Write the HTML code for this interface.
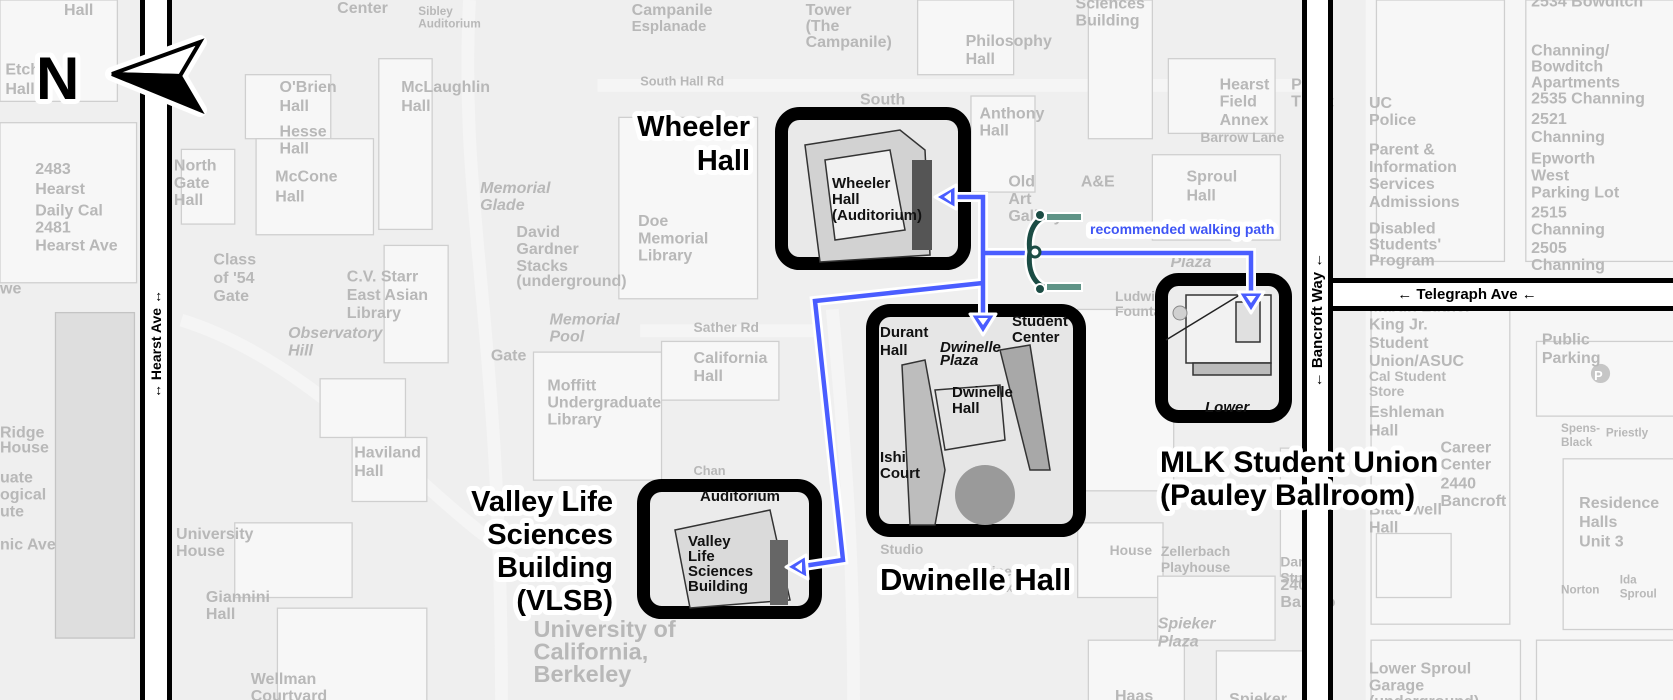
<!DOCTYPE html>
<html><head><meta charset="utf-8"><style>
html,body{margin:0;padding:0;background:#f2f2f2;}
svg{display:block;}
.g{font-family:"Liberation Sans",sans-serif;fill:#b8b8b8;font-size:15px;font-weight:bold;}
.gi{font-style:italic;}
.b{stroke:#cfcfcf;stroke-width:1.2;fill:#f7f7f7;}
.bd{stroke:#c4c4c4;stroke-width:1.2;fill:#dedede;}
.L{font-family:"Liberation Sans",sans-serif;font-weight:bold;fill:#000;paint-order:stroke;stroke:#fff;stroke-width:10;stroke-linejoin:round;}
.in{font-family:"Liberation Sans",sans-serif;font-weight:bold;fill:#111;font-size:15px;}
</style></head><body>
<svg width="1673" height="700" viewBox="0 0 1673 700" xmlns="http://www.w3.org/2000/svg">
<rect width="1673" height="700" fill="#efefef"/>
<g transform="scale(1.067)">
  <path d="M150 0 V660 M440 0 C430 200 470 300 470 660 M560 80 H1240 M170 300 C300 340 400 470 480 520 M600 310 H770 M780 290 C790 400 800 500 800 660" stroke="#f5f5f5" stroke-width="12" fill="none"/>
  <rect x="1280" y="0" width="300" height="660" fill="#f6f6f6"/>
  <rect class="b" x="0" y="115" width="128" height="150"/>
  <rect class="bd" x="52" y="293" width="74" height="305"/>
  <rect class="b" x="0" y="0" width="110" height="95"/>
  <rect class="b" x="230" y="70" width="80" height="60"/>
  <rect class="b" x="240" y="130" width="110" height="90"/>
  <rect class="b" x="355" y="55" width="50" height="160"/>
  <rect class="b" x="170" y="140" width="50" height="70"/>
  <rect class="b" x="360" y="230" width="60" height="110"/>
  <rect class="b" x="300" y="355" width="80" height="55"/>
  <rect class="b" x="330" y="410" width="70" height="60"/>
  <rect class="b" x="220" y="490" width="110" height="70"/>
  <rect class="b" x="260" y="570" width="140" height="90"/>
  <rect class="b" x="580" y="110" width="130" height="170"/>
  <rect class="b" x="500" y="330" width="120" height="120"/>
  <rect class="b" x="620" y="320" width="110" height="55"/>
  <rect class="b" x="860" y="0" width="90" height="70"/>
  <rect class="b" x="910" y="90" width="60" height="90"/>
  <rect class="b" x="1020" y="0" width="60" height="130"/>
  <rect class="b" x="1095" y="55" width="100" height="70"/>
  <rect class="b" x="1080" y="145" width="120" height="80"/>
  <rect class="b" x="1010" y="290" width="90" height="170" fill="#eaeaea"/>
  <rect class="b" x="1010" y="490" width="80" height="70"/>
  <rect class="b" x="1085" y="540" width="110" height="60"/>
  <rect class="b" x="1020" y="600" width="90" height="60"/>
  <rect class="b" x="1140" y="610" width="90" height="50"/>
  <rect class="b" x="1200" y="420" width="40" height="120"/>
  <rect class="b" x="1290" y="0" width="120" height="245" fill="#fafafa"/>
  <rect class="b" x="1430" y="0" width="150" height="245" fill="#fafafa"/>
  <rect class="b" x="1285" y="275" width="130" height="310" fill="#fafafa"/>
  <rect class="b" x="1440" y="320" width="140" height="70" fill="#efefef"/>
  <rect class="b" x="1465" y="430" width="110" height="160" fill="#fafafa"/>
  <rect class="b" x="1285" y="600" width="140" height="60" fill="#fafafa"/>
  <rect class="b" x="1440" y="600" width="140" height="60" fill="#fafafa"/>
  <rect class="b" x="1290" y="500" width="70" height="60" fill="#e8e8e8"/>
  <circle cx="1500" cy="350" r="9" fill="#c6c6c6"/>
  <g class="g">
    <text x="60" y="14">Hall</text>
    <text x="5" y="70">Etch</text><text x="5" y="88">Hall</text>
    <text x="33" y="163">2483</text><text x="33" y="182">Hearst</text>
    <text x="33" y="202">Daily Cal</text><text x="33" y="218">2481</text><text x="33" y="235">Hearst Ave</text>
    <text x="0" y="275">we</text>
    <text x="0" y="410">Ridge</text><text x="0" y="424">House</text>
    <text x="0" y="452">uate</text><text x="0" y="468">ogical</text><text x="0" y="484">ute</text><text x="0" y="515">nic Ave</text>
    <text x="316" y="12">Center</text>
    <text x="392" y="14" font-size="11">Sibley</text><text x="392" y="26" font-size="11">Auditorium</text>
    <text x="262" y="86">O'Brien</text><text x="262" y="104">Hall</text>
    <text x="262" y="128">Hesse</text><text x="262" y="144">Hall</text>
    <text x="258" y="170">McCone</text><text x="258" y="189">Hall</text>
    <text x="376" y="86">McLaughlin</text><text x="376" y="104">Hall</text>
    <text x="163" y="160">North</text><text x="163" y="176">Gate</text><text x="163" y="192">Hall</text>
    <text x="200" y="248">Class</text><text x="200" y="265">of '54</text><text x="200" y="282">Gate</text>
    <text x="325" y="264">C.V. Starr</text><text x="325" y="281">East Asian</text><text x="325" y="298">Library</text>
    <text class="gi" x="450" y="181">Memorial</text><text class="gi" x="450" y="197">Glade</text>
    <text x="484" y="222">David</text><text x="484" y="238">Gardner</text><text x="484" y="254">Stacks</text><text x="484" y="268">(underground)</text>
    <text x="598" y="212">Doe</text><text x="598" y="228">Memorial</text><text x="598" y="244">Library</text>
    <text class="gi" x="270" y="317">Observatory</text><text class="gi" x="270" y="333">Hill</text>
    <text class="gi" x="515" y="304">Memorial</text><text class="gi" x="515" y="320">Pool</text>
    <text x="460" y="338">Gate</text>
    <text x="513" y="366">Moffitt</text><text x="513" y="382">Undergraduate</text><text x="513" y="398">Library</text>
    <text x="332" y="429">Haviland</text><text x="332" y="446">Hall</text>
    <text x="165" y="505">University</text><text x="165" y="521">House</text>
    <text x="193" y="564">Giannini</text><text x="193" y="580">Hall</text>
    <text x="235" y="641">Wellman</text><text x="235" y="657">Courtyard</text>
    <text x="500" y="597" font-size="22">University of</text><text x="500" y="618" font-size="22">California,</text><text x="500" y="639" font-size="22">Berkeley</text>
    <text x="600" y="80" font-size="12">South Hall Rd</text>
    <text x="592" y="14">Campanile</text><text x="592" y="29" font-size="14">Esplanade</text>
    <text x="755" y="14">Tower</text><text x="755" y="29">(The</text><text x="755" y="44">Campanile)</text>
    <text x="650" y="311" font-size="13">Sather Rd</text>
    <text x="650" y="340">California</text><text x="650" y="357">Hall</text>
    <text x="650" y="445" font-size="12">Chan</text>
    <text x="806" y="98">South</text>
    <text x="905" y="43">Philosophy</text><text x="905" y="60">Hall</text>
    <text x="918" y="111">Anthony</text><text x="918" y="127">Hall</text>
    <text x="945" y="175">Old</text><text x="945" y="191">Art</text><text x="945" y="207">Gallery</text>
    <text x="1013" y="175">A&amp;E</text>
    <text x="1008" y="8">Sciences</text><text x="1008" y="24">Building</text>
    <text x="1143" y="84">Hearst</text><text x="1143" y="100">Field</text><text x="1143" y="117">Annex</text>
    <text x="1210" y="84">PFA</text><text x="1210" y="100">Theat</text>
    <text x="1125" y="133" font-size="13">Barrow Lane</text>
    <text x="1112" y="170">Sproul</text><text x="1112" y="188">Hall</text>
    <text class="gi" x="1097" y="250">Plaza</text>
    <text x="1045" y="282" font-size="13">Ludwig's</text><text x="1045" y="296" font-size="13">Fountain</text>
    <text x="1040" y="520" font-size="13">House</text>
    <text x="1088" y="521" font-size="13">Zellerbach</text><text x="1088" y="536" font-size="13">Playhouse</text>
    <text x="1200" y="531" font-size="13">Dance</text><text x="1200" y="546" font-size="13">Studio</text>
    <text x="1200" y="553">2401</text><text x="1200" y="569">Bancro</text>
    <text class="gi" x="1085" y="589">Spieker</text><text class="gi" x="1085" y="606">Plaza</text>
    <text x="1045" y="657">Haas</text><text x="1152" y="660">Spieker</text>
    <text x="825" y="519" font-size="13">Studio</text>
    <text x="910" y="540" font-size="13">Dwinelle</text><text x="910" y="555" font-size="13">Annex</text>
    <text x="1283" y="101">UC</text><text x="1283" y="117">Police</text>
    <text x="1283" y="145">Parent &amp;</text><text x="1283" y="161">Information</text><text x="1283" y="177">Services</text>
    <text x="1283" y="194">Admissions</text>
    <text x="1283" y="219">Disabled</text><text x="1283" y="234">Students'</text><text x="1283" y="249">Program</text>
    <text x="1435" y="6">2534 Bowditch</text>
    <text x="1435" y="52">Channing/</text><text x="1435" y="67">Bowditch</text><text x="1435" y="82">Apartments</text><text x="1435" y="97">2535 Channing</text>
    <text x="1435" y="116">2521</text><text x="1435" y="133">Channing</text>
    <text x="1435" y="153">Epworth</text><text x="1435" y="169">West</text><text x="1435" y="185">Parking Lot</text>
    <text x="1435" y="204">2515</text><text x="1435" y="220">Channing</text>
    <text x="1435" y="237">2505</text><text x="1435" y="253">Channing</text>
    <text x="1283" y="292">Martin Luther</text><text x="1283" y="309">King Jr.</text><text x="1283" y="326">Student</text><text x="1283" y="343">Union/ASUC</text>
    <text x="1283" y="357" font-size="13">Cal Student</text><text x="1283" y="371" font-size="13">Store</text>
    <text x="1445" y="323">Public</text><text x="1445" y="340">Parking</text>
    <text x="1494" y="356" fill="#fff" font-size="12">P</text>
    <text x="1283" y="391">Eshleman</text><text x="1283" y="408">Hall</text>
    <text x="1350" y="424">Career</text><text x="1350" y="440">Center</text><text x="1350" y="458">2440</text><text x="1350" y="474">Bancroft</text>
    <text x="1463" y="405" font-size="11">Spens-</text><text x="1463" y="418" font-size="11">Black</text>
    <text x="1505" y="409" font-size="11">Priestly</text>
    <text x="1480" y="476">Residence</text><text x="1480" y="494">Halls</text><text x="1480" y="512">Unit 3</text>
    <text x="1283" y="482">Blackwell</text><text x="1283" y="499">Hall</text>
    <text x="1463" y="556" font-size="11">Norton</text>
    <text x="1518" y="547" font-size="11">Ida</text><text x="1518" y="560" font-size="11">Sproul</text>
    <text x="1283" y="631">Lower Sproul</text><text x="1283" y="647">Garage</text><text x="1283" y="662">(underground)</text>
  </g>
</g>

<rect x="140" y="0" width="5" height="700" fill="#000"/>
<rect x="167" y="0" width="5" height="700" fill="#000"/>
<rect x="145" y="0" width="22" height="700" fill="#fff"/>
<rect x="1302" y="0" width="5" height="700" fill="#000"/>
<rect x="1328" y="0" width="5" height="700" fill="#000"/>
<rect x="1307" y="0" width="21" height="700" fill="#fff"/>
<rect x="1333" y="283" width="340" height="23" fill="#fff"/>
<rect x="1328" y="278" width="345" height="5" fill="#000"/>
<rect x="1328" y="306" width="345" height="5" fill="#000"/>
<text x="0" y="0" transform="translate(161,344) rotate(-90)" text-anchor="middle" font-family="Liberation Sans,sans-serif" font-size="14" font-weight="bold">↔ Hearst Ave ↔</text>
<text x="0" y="0" transform="translate(1322,320) rotate(-90)" text-anchor="middle" font-family="Liberation Sans,sans-serif" font-size="15" font-weight="bold">← Bancroft Way ←</text>
<text x="1467" y="299" text-anchor="middle" font-family="Liberation Sans,sans-serif" font-size="15" font-weight="bold">← Telegraph Ave ←</text>

<polygon points="112,74 200,42 180,76 200,110" fill="none" stroke="#fff" stroke-width="14" stroke-linejoin="round"/>
<polygon points="112,74 200,42 180,76" fill="#fff" stroke="#000" stroke-width="4" stroke-linejoin="miter"/>
<polygon points="112,74 180,76 200,110" fill="#000" stroke="#000" stroke-width="4"/>
<text class="L" x="36" y="99" font-size="60" stroke-width="12">N</text>

<g>
  <rect x="781.5" y="113.5" width="183" height="150" rx="18" fill="#e9e9e9" stroke="#000" stroke-width="13"/>
  <g stroke="#333" stroke-width="1.5" fill="#d2d2d2">
    <polygon points="805,145 900,130 925,150 930,255 820,262"/>
    <polygon points="825,160 890,150 905,230 835,240" fill="#f1f1f1"/>
  </g>
  <rect x="912" y="160" width="20" height="90" fill="#555"/>
  <text class="in" x="832" y="188">Wheeler</text><text class="in" x="832" y="204">Hall</text><text class="in" x="832" y="220">(Auditorium)</text>

  <rect x="872.5" y="310.5" width="207" height="220" rx="18" fill="#e6e6e6" stroke="#000" stroke-width="13"/>
  <g stroke="#333" stroke-width="1.5" fill="#bdbdbd">
    <polygon points="902,365 925,360 945,470 935,525 910,525"/>
    <polygon points="935,390 1000,385 1005,440 945,450" fill="#e4e4e4"/>
    <polygon points="1000,350 1030,345 1050,470 1030,470" fill="#a8a8a8"/>
  </g>
  <circle cx="985" cy="495" r="30" fill="#9a9a9a"/>
  <text class="in" x="880" y="337">Durant</text><text class="in" x="880" y="355">Hall</text>
  <text class="in" x="940" y="352" font-style="italic" font-size="13">Dwinelle</text><text class="in" x="940" y="365" font-style="italic" font-size="13">Plaza</text>
  <text class="in" x="952" y="397">Dwinelle</text><text class="in" x="952" y="413">Hall</text>
  <text class="in" x="880" y="462">Ishi</text><text class="in" x="880" y="478">Court</text>
  <text class="in" x="1012" y="326">Student</text><text class="in" x="1012" y="342">Center</text>

  <rect x="643.5" y="485.5" width="172" height="127" rx="18" fill="#ebebeb" stroke="#000" stroke-width="13"/>
  <g stroke="#333" stroke-width="1.5" fill="#dadada">
    <polygon points="675,530 770,510 790,600 690,608"/>
  </g>
  <rect x="770" y="540" width="18" height="65" fill="#666"/>
  <text class="in" x="700" y="501" font-size="13">Auditorium</text>
  <text class="in" x="688" y="546">Valley</text><text class="in" x="688" y="561">Life</text><text class="in" x="688" y="576">Sciences</text><text class="in" x="688" y="591">Building</text>

  <rect x="1161.5" y="279.5" width="124" height="137" rx="17" fill="#ececec" stroke="#000" stroke-width="13"/>
  <g stroke="#333" stroke-width="1.5" fill="#f2f2f2">
    <rect x="1186" y="295" width="85" height="68"/>
    <rect x="1236" y="302" width="24" height="40" fill="#e0e0e0"/>
    <rect x="1193" y="363" width="78" height="12" fill="#bbb"/>
  </g>
  <line x1="1166" y1="340" x2="1238" y2="296" stroke="#222" stroke-width="1.5"/>
  <circle cx="1180" cy="313" r="7" fill="#d0d0d0" stroke="#888"/>
  <text class="in" x="1205" y="412" font-style="italic" fill="#444">Lower</text>
</g>

<g fill="none" stroke-linejoin="miter">
  <path d="M945 197 H983 V322 M983 253 H1251 V300 M983 283 L815 301 L843 560 L797 567" stroke="#fff" stroke-width="10"/>
  <path d="M945 197 H983 V322 M983 253 H1251 V300 M983 283 L815 301 L843 560 L797 567" stroke="#4a5dff" stroke-width="4.5"/>
</g>
<g stroke="#fff" stroke-width="3" stroke-linejoin="round">
  <polygon points="935,197 956,185 956,209" fill="#4a5dff"/>
  <polygon points="983,335 970,314 996,314" fill="#4a5dff"/>
  <polygon points="1251,313 1238,292 1264,292" fill="#4a5dff"/>
  <polygon points="786,567 806,555 808,579" fill="#4a5dff"/>
</g>
<polygon points="944,197 951,192 951,202" fill="#fff"/>
<polygon points="983,325 978,318 988,318" fill="#fff"/>
<polygon points="1251,303 1246,296 1256,296" fill="#fff"/>
<polygon points="795,567 802,562 802,572" fill="#fff"/>
<text class="L" x="1090" y="234" font-size="14" stroke-width="6" style="fill:#3f55f5">recommended walking path</text>

<g>
  <path d="M1046 216 C1030 222 1028 240 1030 252 C1028 264 1030 282 1046 288" fill="none" stroke="#fff" stroke-width="10"/>
  <path d="M1046 216 C1030 222 1028 240 1030 252 C1028 264 1030 282 1046 288" fill="none" stroke="#1b4c44" stroke-width="5"/>
  <rect x="1046" y="213" width="36" height="8" fill="#5f9487" stroke="#fff" stroke-width="2"/>
  <rect x="1046" y="283" width="36" height="8" fill="#5f9487" stroke="#fff" stroke-width="2"/>
  <circle cx="1040" cy="215" r="5" fill="#1b4c44" stroke="#fff" stroke-width="2"/>
  <circle cx="1040" cy="289" r="5" fill="#1b4c44" stroke="#fff" stroke-width="2"/>
  <circle cx="1035" cy="252" r="5" fill="#fff" stroke="#1b4c44" stroke-width="3"/>
</g>

<g class="L" font-size="29">
  <text x="750" y="136" text-anchor="end">Wheeler</text>
  <text x="750" y="170" text-anchor="end">Hall</text>
  <text x="880" y="590" font-size="31">Dwinelle Hall</text>
  <text x="1160" y="472" font-size="30">MLK Student Union</text>
  <text x="1160" y="505" font-size="30">(Pauley Ballroom)</text>
  <text x="613" y="511" text-anchor="end">Valley Life</text>
  <text x="613" y="544" text-anchor="end">Sciences</text>
  <text x="613" y="577" text-anchor="end">Building</text>
  <text x="613" y="610" text-anchor="end">(VLSB)</text>
</g>
</svg>
</body></html>
